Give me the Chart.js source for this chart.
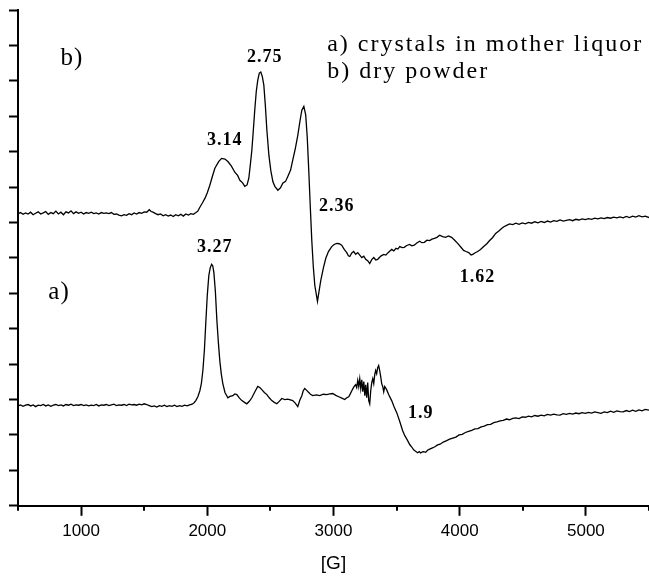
<!DOCTYPE html>
<html>
<head>
<meta charset="utf-8">
<script src="https://cdn.jsdelivr.net/npm/chart.js@4.4.1/dist/chart.umd.min.js"></script>
<style>
  html, body { margin: 0; padding: 0; background: #fff; }
  #wrap { width: 649px; height: 578px; }
</style>
</head>
<body>
<div id="wrap"><canvas id="epr" width="649" height="578"></canvas></div>
<script>
// EPR spectra: magnetic field [G] vs. first-derivative signal (arbitrary units)

// b) dry powder
const bField = [
  500, 520, 540, 560, 580, 600, 620, 640, 660, 680, 700, 720, 740, 760, 780, 800, 820, 840, 860, 880,
  900, 920, 940, 960, 980, 1000, 1020, 1040, 1060, 1080, 1100, 1120, 1140, 1160, 1180, 1200, 1220, 1240,
  1260, 1280, 1300, 1320, 1340, 1360, 1380, 1400, 1420, 1440, 1460, 1480, 1500, 1520, 1540, 1555, 1570,
  1590, 1610, 1630, 1650, 1670, 1690, 1710, 1730, 1750, 1770, 1790, 1810, 1830, 1850, 1870, 1890, 1910,
  1925, 1941, 1961, 1981, 2000, 2020, 2040, 2060, 2090, 2113, 2140, 2163, 2190, 2218, 2240, 2258, 2280,
  2297, 2315, 2329, 2340, 2353, 2365, 2376, 2388, 2400, 2412, 2424, 2436, 2448, 2460, 2472, 2488, 2503,
  2520, 2535, 2559, 2580, 2598, 2620, 2638, 2660, 2677, 2697, 2717, 2735, 2749, 2765, 2780, 2792, 2804,
  2816, 2828, 2840, 2852, 2873, 2885, 2899, 2920, 2939, 2960, 2986, 3005, 3026, 3045, 3065, 3085, 3105,
  3118, 3129, 3145, 3160, 3176, 3192, 3208, 3224, 3240, 3255, 3271, 3287, 3303, 3319, 3335, 3350, 3375,
  3398, 3415, 3430, 3445, 3461, 3478, 3495, 3510, 3525, 3545, 3560, 3580, 3604, 3620, 3640, 3660, 3683,
  3700, 3720, 3740, 3762, 3780, 3800, 3820, 3841, 3865, 3889, 3910, 3936, 3960, 3984, 4010, 4031, 4050,
  4071, 4090, 4103, 4120, 4142, 4165, 4190, 4215, 4237, 4260, 4285, 4310, 4332, 4350, 4372, 4395, 4420,
  4445, 4470, 4495, 4520, 4545, 4570, 4595, 4620, 4645, 4670, 4695, 4720, 4745, 4770, 4795, 4820, 4845,
  4870, 4895, 4920, 4945, 4970, 4995, 5020, 5045, 5070, 5095, 5120, 5145, 5170, 5195, 5220, 5245, 5270,
  5295, 5320, 5345, 5370, 5395, 5420, 5445, 5470, 5500
];
const bSignal = [
  8.25, 8.28, 8.23, 8.27, 8.24, 8.29, 8.22, 8.26, 8.30, 8.24, 8.27, 8.31, 8.23, 8.28, 8.25, 8.32, 8.24, 8.29, 8.22, 8.30,
  8.27, 8.33, 8.25, 8.30, 8.26, 8.29, 8.24, 8.28, 8.26, 8.29, 8.25, 8.27, 8.24, 8.28, 8.26, 8.27, 8.25, 8.28,
  8.23, 8.24, 8.21, 8.19, 8.22, 8.20, 8.25, 8.22, 8.27, 8.24, 8.28, 8.26, 8.30, 8.29, 8.36, 8.31, 8.29,
  8.25, 8.22, 8.24, 8.19, 8.22, 8.18, 8.21, 8.17, 8.22, 8.19, 8.23, 8.18, 8.24, 8.21, 8.25, 8.23, 8.28,
  8.32, 8.43, 8.55, 8.68, 8.84, 9.05, 9.30, 9.53, 9.72, 9.81, 9.79, 9.72, 9.60, 9.42, 9.33, 9.19, 9.12,
  9.02, 9.06, 9.25, 9.60, 10.04, 10.62, 11.17, 11.70, 12.02, 12.22, 12.25, 12.12, 11.88, 11.30, 10.61, 9.90, 9.47,
  9.15, 9.02, 8.91, 8.98, 9.11, 9.16, 9.30, 9.48, 9.76, 10.08, 10.46, 10.88, 11.17, 11.28, 11.03, 10.40, 9.47,
  8.45, 7.49, 6.75, 6.22, 5.77, 6.05, 6.36, 6.72, 6.99, 7.18, 7.32, 7.38, 7.41, 7.40, 7.36, 7.24, 7.15,
  7.06, 7.04, 7.14, 7.18, 7.10, 7.15, 7.08, 7.01, 7.05, 6.96, 6.92, 6.84, 6.95, 7.01, 6.94, 6.96, 7.05,
  7.10, 7.08, 7.14, 7.19, 7.24, 7.20, 7.27, 7.25, 7.32, 7.29, 7.30, 7.35, 7.38, 7.34, 7.36, 7.42, 7.47,
  7.43, 7.44, 7.50, 7.49, 7.53, 7.55, 7.58, 7.64, 7.60, 7.58, 7.62, 7.58, 7.50, 7.41, 7.30, 7.21, 7.18,
  7.15, 7.08, 7.10, 7.14, 7.18, 7.24, 7.32, 7.40, 7.49, 7.57, 7.69, 7.76, 7.83, 7.88, 7.92, 7.96, 7.94,
  7.98, 7.95, 7.99, 7.96, 8.00, 7.98, 8.02, 7.99, 8.03, 8.00, 8.04, 8.01, 8.05, 8.03, 8.07, 8.04, 8.06,
  8.08, 8.05, 8.09, 8.07, 8.10, 8.08, 8.11, 8.09, 8.12, 8.10, 8.13, 8.11, 8.14, 8.12, 8.15, 8.13, 8.16,
  8.13, 8.17, 8.14, 8.18, 8.15, 8.19, 8.16, 8.18, 8.14
];

// a) crystals in mother liquor
const aField = [
  500, 520, 540, 560, 580, 600, 620, 640, 660, 680, 700, 720, 740, 760, 780, 800, 820, 840, 860, 880,
  900, 920, 940, 960, 980, 1000, 1020, 1040, 1060, 1080, 1100, 1120, 1140, 1160, 1180, 1200, 1220, 1240,
  1260, 1280, 1300, 1320, 1340, 1360, 1380, 1400, 1420, 1440, 1460, 1480, 1500, 1520, 1540, 1560, 1580,
  1600, 1620, 1640, 1660, 1680, 1700, 1720, 1740, 1760, 1780, 1800, 1820, 1840, 1860, 1880, 1895, 1909,
  1925, 1941, 1953, 1965, 1977, 1989, 2000, 2012, 2023, 2034, 2043, 2052, 2064, 2076, 2088, 2099, 2111,
  2123, 2140, 2163, 2180, 2202, 2218, 2234, 2255, 2274, 2295, 2313, 2333, 2353, 2377, 2400, 2416, 2432,
  2452, 2472, 2491, 2511, 2531, 2551, 2570, 2590, 2614, 2638, 2658, 2677, 2697, 2717, 2733, 2749, 2760,
  2772, 2788, 2804, 2820, 2836, 2864, 2891, 2920, 2947, 2970, 2994, 3018, 3042, 3066, 3089, 3105, 3121,
  3133, 3145, 3157, 3168, 3176, 3184, 3192, 3200, 3208, 3216, 3224, 3232, 3240, 3248, 3255, 3263, 3271,
  3279, 3287, 3295, 3303, 3311, 3319, 3327, 3334, 3342, 3350, 3358, 3366, 3374, 3382, 3390, 3398, 3406,
  3421, 3437, 3461, 3480, 3501, 3525, 3548, 3565, 3580, 3604, 3620, 3635, 3650, 3667, 3680, 3690, 3705,
  3714, 3730, 3745, 3762, 3780, 3800, 3825, 3845, 3870, 3897, 3920, 3945, 3970, 3995, 4020, 4045, 4070,
  4095, 4120, 4145, 4170, 4195, 4220, 4245, 4270, 4295, 4320, 4345, 4370, 4395, 4420, 4445, 4470, 4495,
  4520, 4545, 4570, 4595, 4620, 4645, 4670, 4695, 4720, 4745, 4770, 4795, 4820, 4845, 4870, 4895, 4920,
  4945, 4970, 4995, 5020, 5045, 5070, 5095, 5120, 5145, 5170, 5195, 5220, 5245, 5270, 5295, 5320, 5345,
  5370, 5395, 5420, 5445, 5470, 5500
];
const aSignal = [
  2.82, 2.85, 2.81, 2.84, 2.86, 2.82, 2.85, 2.80, 2.84, 2.83, 2.86, 2.82, 2.85, 2.81, 2.84, 2.86, 2.83, 2.85, 2.82, 2.86,
  2.84, 2.87, 2.83, 2.85, 2.84, 2.86, 2.83, 2.85, 2.82, 2.84, 2.83, 2.86, 2.82, 2.85, 2.84, 2.86, 2.83, 2.85,
  2.87, 2.83, 2.85, 2.84, 2.86, 2.83, 2.87, 2.85, 2.86, 2.84, 2.87, 2.85, 2.88, 2.86, 2.83, 2.80, 2.82,
  2.79, 2.83, 2.81, 2.84, 2.80, 2.83, 2.81, 2.84, 2.80, 2.83, 2.81, 2.84, 2.82, 2.85, 2.87, 2.91, 2.97,
  3.08, 3.25, 3.45, 3.82, 4.40, 5.23, 5.95, 6.50, 6.72, 6.82, 6.78, 6.59, 6.05, 5.23, 4.60, 4.10, 3.72,
  3.45, 3.20, 3.05, 3.09, 3.11, 3.16, 3.14, 3.04, 2.97, 2.92, 2.88, 2.95, 3.05, 3.22, 3.37, 3.34, 3.28,
  3.20, 3.14, 3.05, 2.97, 2.92, 2.88, 2.95, 3.03, 3.00, 3.01, 2.99, 2.97, 2.90, 2.80, 2.98, 3.11, 3.25,
  3.31, 3.26, 3.20, 3.14, 3.11, 3.13, 3.11, 3.15, 3.14, 3.16, 3.17, 3.12, 3.08, 3.04, 3.00, 3.05, 3.08,
  3.16, 3.25, 3.33, 3.39, 3.42, 3.34, 3.54, 3.37, 3.59, 3.31, 3.56, 3.22, 3.51, 3.11, 3.42, 3.05, 3.48,
  2.97, 2.88, 3.25, 3.48, 3.59, 3.45, 3.71, 3.82, 3.73, 3.90, 3.96, 3.82, 3.65, 3.45, 3.37, 3.22, 3.37,
  3.28, 3.14, 2.97, 2.80, 2.63, 2.38, 2.12, 1.98, 1.89, 1.73, 1.66, 1.58, 1.54, 1.50, 1.53, 1.49, 1.52,
  1.53, 1.51, 1.57, 1.60, 1.63, 1.66, 1.72, 1.74, 1.80, 1.84, 1.88, 1.91, 1.94, 2.00, 2.02, 2.07, 2.10,
  2.13, 2.17, 2.18, 2.23, 2.25, 2.29, 2.30, 2.35, 2.37, 2.40, 2.41, 2.45, 2.43, 2.47, 2.48, 2.46, 2.51,
  2.50, 2.53, 2.51, 2.55, 2.53, 2.56, 2.54, 2.58, 2.56, 2.59, 2.57, 2.56, 2.60, 2.58, 2.61, 2.59, 2.62,
  2.60, 2.63, 2.61, 2.64, 2.62, 2.65, 2.63, 2.61, 2.65, 2.63, 2.67, 2.64, 2.68, 2.66, 2.65, 2.69, 2.66,
  2.70, 2.67, 2.71, 2.68, 2.72, 2.70
];

// axis ticks
const fieldTicks = [500, 1000, 1500, 2000, 2500, 3000, 3500, 4000, 4500, 5000, 5500];
const fieldLabels = ['', '1000', '', '2000', '', '3000', '', '4000', '', '5000', ''];

// g-value annotations and trace labels, placed in data coordinates
const gLabels = [
  { text: '3.14', x: 2139, y: 10.32 },
  { text: '2.75', x: 2456, y: 12.67 },
  { text: '2.36', x: 3026, y: 8.46 },
  { text: '3.27', x: 2060, y: 7.30 },
  { text: '1.62', x: 4142, y: 6.45 },
  { text: '1.9',  x: 3691, y: 2.60 }
];
const traceLabels = [
  { text: 'b)', x: 928, y: 12.64 },
  { text: 'a)', x: 825, y: 6.02 }
];
const legendLines = [
  { text: 'a) crystals in mother liquor', x: 2950, y: 13.01 },
  { text: 'b) dry powder', x: 2950, y: 12.25 }
];

const toPoints = (xs, ys) => xs.map((x, i) => ({ x: x, y: ys[i] }));

// draws the text annotations and the short minor ticks on the field axis
const annotate = {
  id: 'annotate',
  afterDraw(chart) {
    const { ctx, scales: { x, y } } = chart;
    ctx.save();
    ctx.fillStyle = '#000';
    ctx.textBaseline = 'middle';

    ctx.font = 'bold 18px "Liberation Serif"';
    ctx.textAlign = 'center';
    ctx.letterSpacing = '1px';
    gLabels.forEach(l => ctx.fillText(l.text, x.getPixelForValue(l.x), y.getPixelForValue(l.y)));

    ctx.font = '25px "Liberation Serif"';
    ctx.letterSpacing = '1px';
    traceLabels.forEach(l => ctx.fillText(l.text, x.getPixelForValue(l.x), y.getPixelForValue(l.y)));

    ctx.textAlign = 'left';
    ctx.font = '24px "Liberation Serif"';
    ctx.letterSpacing = '2px';
    legendLines.forEach(l => ctx.fillText(l.text, x.getPixelForValue(l.x), y.getPixelForValue(l.y)));

    // minor field ticks (half length)
    ctx.letterSpacing = '0px';
    ctx.strokeStyle = '#000';
    ctx.lineWidth = 2;
    const base = y.bottom;
    fieldTicks.forEach((v, i) => {
      if (fieldLabels[i] !== '') return;
      const px = Math.round(x.getPixelForValue(v));
      ctx.beginPath();
      ctx.moveTo(px, base);
      ctx.lineTo(px, base + 5);
      ctx.stroke();
    });
    ctx.restore();
  }
};

Chart.defaults.font.family = '"Liberation Sans", Arial, sans-serif';
Chart.defaults.color = '#000';

new Chart(document.getElementById('epr'), {
  type: 'line',
  data: {
    datasets: [
      { label: 'b) dry powder', data: toPoints(bField, bSignal) },
      { label: 'a) crystals in mother liquor', data: toPoints(aField, aSignal) }
    ]
  },
  options: {
    responsive: false,
    animation: false,
    devicePixelRatio: 1,
    layout: { padding: { left: 9, right: 0, top: 10, bottom: 0 } },
    elements: {
      line: { borderColor: '#000', borderWidth: 1.3, tension: 0, fill: false },
      point: { radius: 0, hoverRadius: 0 }
    },
    plugins: { legend: { display: false }, tooltip: { enabled: false } },
    scales: {
      x: {
        type: 'linear',
        min: 500,
        max: 5500,
        afterBuildTicks: (scale) => { scale.ticks = fieldTicks.map(v => ({ value: v })); },
        // the field axis runs right up to the canvas edge
        afterFit: (scale) => { scale.paddingRight = 0; },
        ticks: {
          autoSkip: false,
          maxRotation: 0,
          padding: 5,
          font: { size: 17 },
          callback: (v) => fieldLabels[fieldTicks.indexOf(v)] ?? ''
        },
        grid: {
          drawOnChartArea: false,
          drawTicks: true,
          tickLength: 10,
          tickWidth: 2,
          tickColor: (c) => (c.tick && fieldLabels[fieldTicks.indexOf(c.tick.value)] !== '') ? '#000' : 'rgba(0,0,0,0)'
        },
        border: { color: '#000', width: 2 },
        title: { display: true, text: '[G]', font: { size: 19 }, padding: { top: 6, bottom: 3 } }
      },
      y: {
        type: 'linear',
        min: 0,
        max: 14,
        ticks: { stepSize: 1, display: false },
        grid: { drawOnChartArea: false, drawTicks: true, tickLength: 9, tickWidth: 2, tickColor: '#000' },
        border: { color: '#000', width: 2 }
      }
    }
  },
  plugins: [annotate]
});
</script>
</body>
</html>
